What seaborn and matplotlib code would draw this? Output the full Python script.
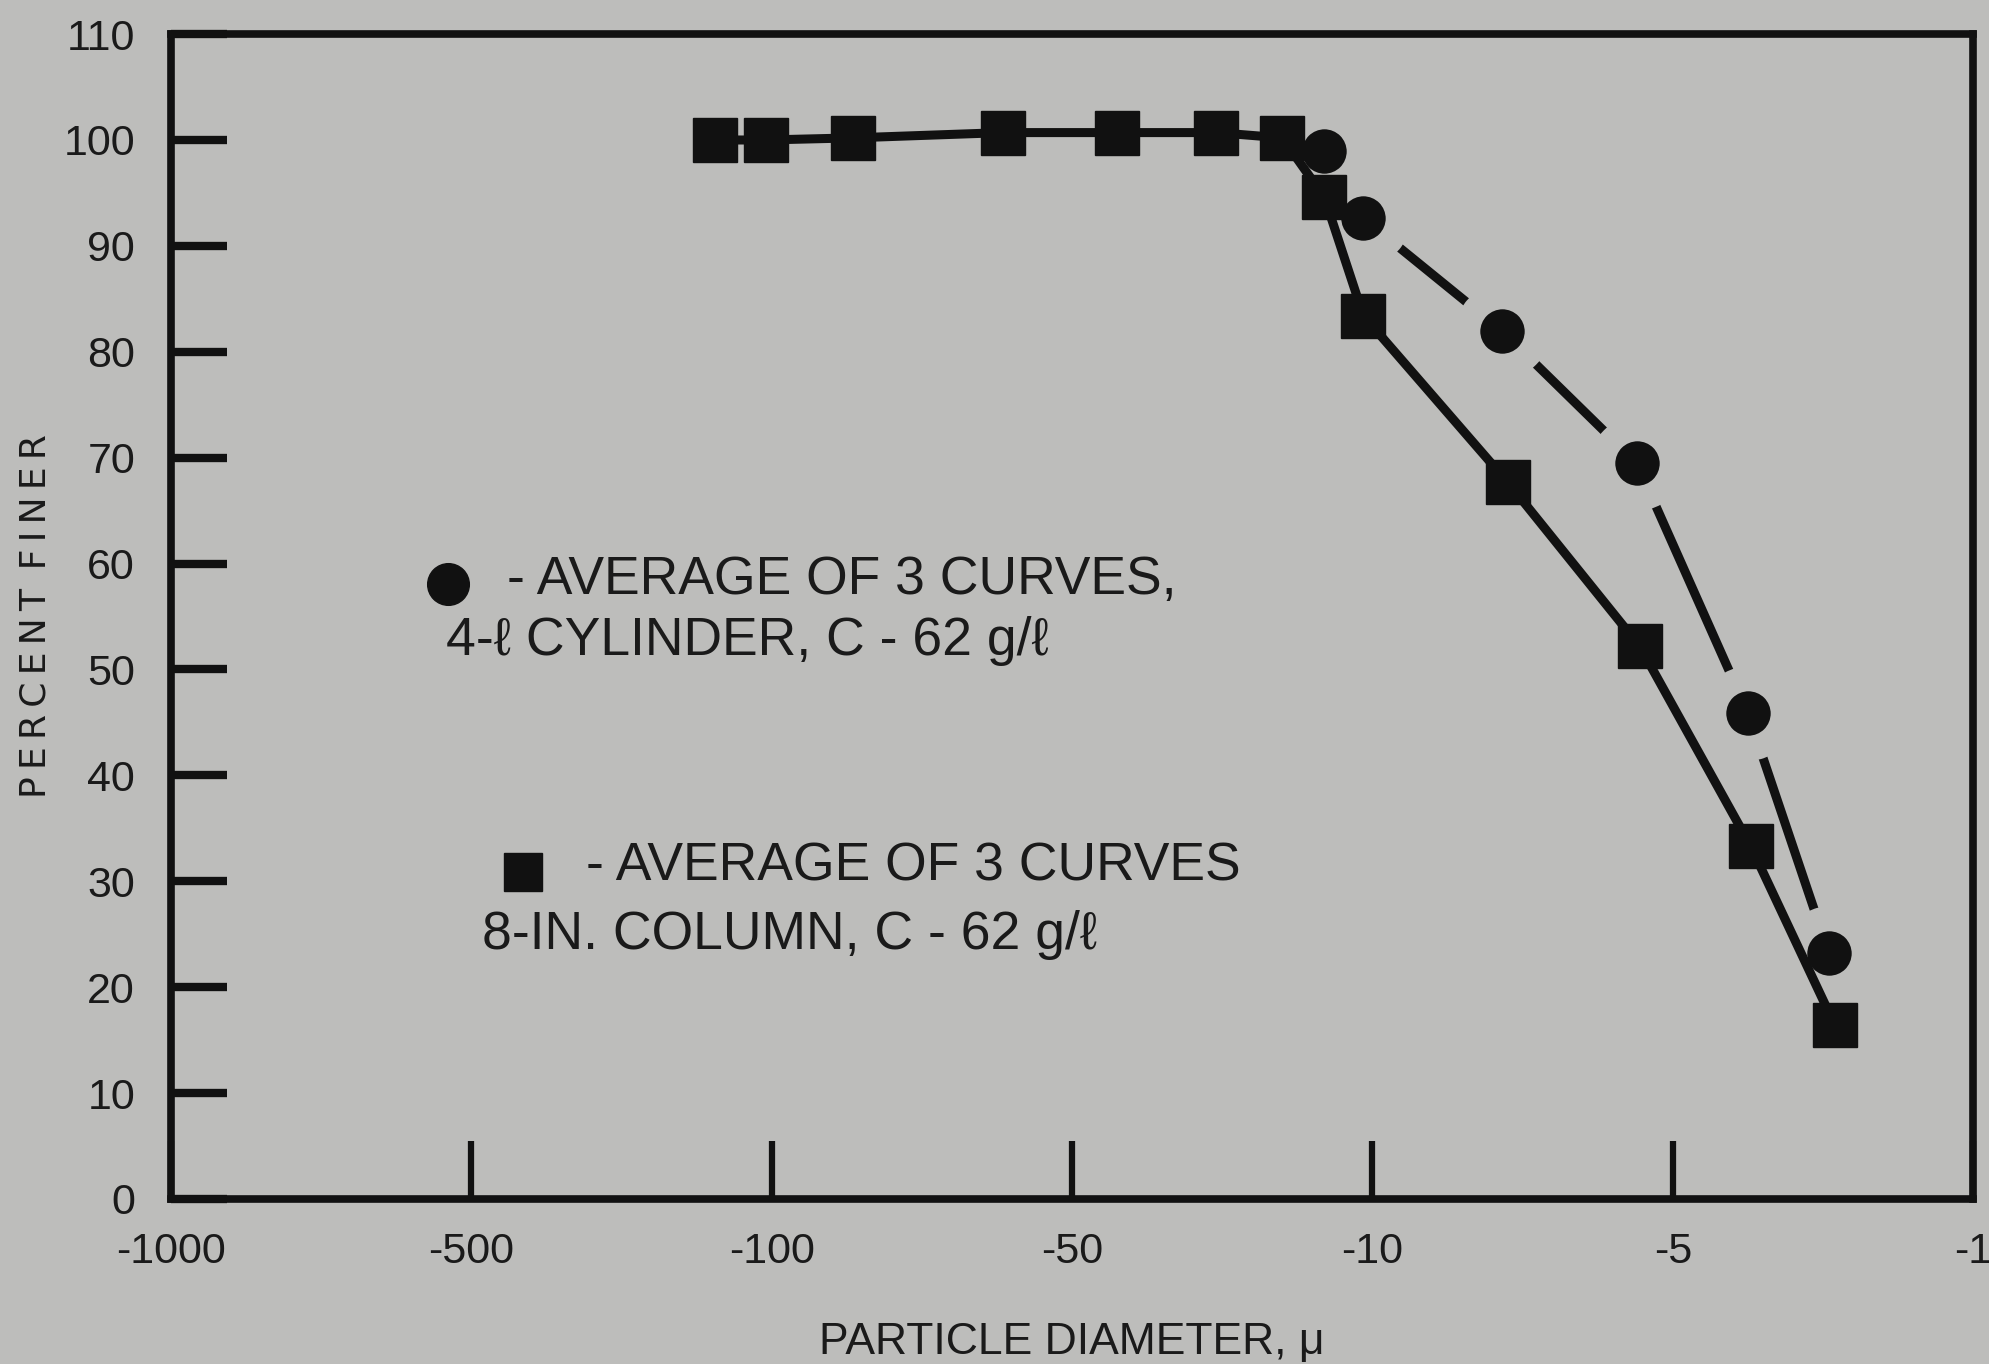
import matplotlib
matplotlib.use("Agg")
import matplotlib.pyplot as plt
import seaborn as sns
import pandas as pd

# ---- data (x in evenly spaced axis-position units: 0 = -1000 ... 6 = -1) ----
tick_positions = [0, 1, 2, 3, 4, 5, 6]
tick_labels = ["-1000", "-500", "-100", "-50", "-10", "-5", "-1"]
y_ticks = [0, 10, 20, 30, 40, 50, 60, 70, 80, 90, 100, 110]

square_x = [1.81, 1.98, 2.27, 2.77, 3.15, 3.48, 3.70, 3.84, 3.97, 4.45, 4.89, 5.26, 5.54]
square_y = [100.0, 100.0, 100.2, 100.7, 100.7, 100.7, 100.2, 94.6, 83.4, 67.7, 52.2, 33.3, 16.4]

circle_x = [3.84, 3.97, 4.43, 4.88, 5.25, 5.52]
circle_y = [99.0, 92.6, 82.0, 69.5, 45.9, 23.2]

legend_circle_1 = "- AVERAGE OF 3 CURVES,"
legend_circle_2 = "4-\u2113 CYLINDER, C - 62 g/\u2113"
legend_square_1 = "- AVERAGE OF 3 CURVES"
legend_square_2 = "8-IN. COLUMN, C - 62 g/\u2113"

BG = "#bdbdbb"
INK = "#111111"

sns.set_theme(style="white")
plt.rcParams["font.family"] = ["Liberation Sans Narrow", "Liberation Sans", "DejaVu Sans"]

fig = plt.figure(figsize=(19.9, 13.64), dpi=100, facecolor=BG)
ax = fig.add_axes([0.086, 0.121, 0.9055, 0.854])
ax.set_facecolor(BG)

df_c = pd.DataFrame({"x": circle_x, "y": circle_y})
df_s = pd.DataFrame({"x": square_x, "y": square_y})

sns.lineplot(data=df_c, x="x", y="y", ax=ax, color=INK, lw=6.5, marker="o",
             markersize=50, markerfacecolor=INK, markeredgecolor=BG,
             markeredgewidth=18, sort=False, zorder=3)
sns.lineplot(data=df_s, x="x", y="y", ax=ax, color=INK, lw=6.5, marker="s",
             markersize=31, markerfacecolor=INK, markeredgecolor=INK,
             markeredgewidth=1, sort=False, zorder=4)

ax.set_xlim(0, 6)
ax.set_ylim(0, 110)
ax.set_xticks(tick_positions)
ax.set_xticklabels(tick_labels)
ax.set_yticks(y_ticks)
ax.set_yticklabels([str(v) for v in y_ticks])

ax.tick_params(axis="y", direction="in", length=40, width=6, color=INK,
               labelsize=31, pad=26, left=True, labelcolor="#1a1a1a")
ax.tick_params(axis="x", direction="in", length=42, width=4.5, color=INK,
               labelsize=31, pad=24, bottom=True, labelcolor="#1a1a1a")

for sp in ax.spines.values():
    sp.set_visible(True)
    sp.set_color(INK)
    sp.set_linewidth(5.5)

ax.set_xlabel("PARTICLE DIAMETER, \u03bc", fontsize=32, labelpad=36, color="#1a1a1a")
ax.set_ylabel("P\u2009E\u2009R\u2009C\u2009E\u2009N\u2009T\u2009 F\u2009I\u2009N\u2009E\u2009R",
              fontsize=26, labelpad=8, color="#1a1a1a", family=["DejaVu Sans"])

# legend block
ax.plot([0.1535], [0.528], transform=ax.transAxes, marker="o", markersize=30,
        color=INK, ls="none")
ax.plot([0.195], [0.281], transform=ax.transAxes, marker="s", markersize=27,
        color=INK, ls="none")
tkw = dict(transform=ax.transAxes, fontsize=38.5, color="#1a1a1a", va="center", ha="left")
ax.text(0.1866, 0.531, legend_circle_1, **tkw)
ax.text(0.1528, 0.479, legend_circle_2, **tkw)
ax.text(0.2303, 0.2854, legend_square_1, **tkw)
ax.text(0.1725, 0.2266, legend_square_2, **tkw)

fig.savefig("out.png", dpi=100, facecolor=BG)
